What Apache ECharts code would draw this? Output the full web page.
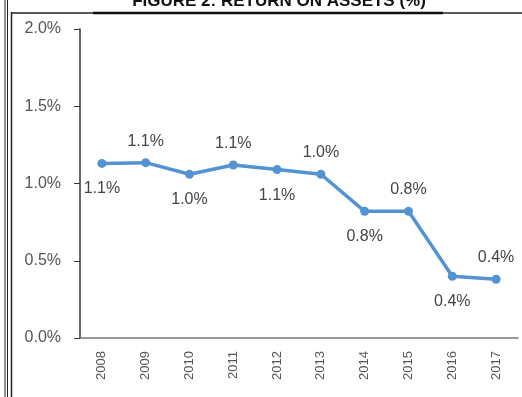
<!DOCTYPE html>
<html>
<head>
<meta charset="utf-8">
<script src="https://cdn.jsdelivr.net/npm/echarts@6/dist/echarts.min.js"></script>
<style>
  html, body { margin: 0; padding: 0; background: #fff; }
  #chart { width: 522px; height: 397px; }
</style>
</head>
<body>
<div id="chart"></div>
<script>
// Return on assets
var years = ['2008', '2009', '2010', '2011', '2012', '2013', '2014', '2015', '2016', '2017'];
var roaValues = [1.13, 1.135, 1.06, 1.12, 1.09, 1.06, 0.82, 0.82, 0.40, 0.38];
var roaLabels = ['1.1%', '1.1%', '1.0%', '1.1%', '1.1%', '1.0%', '0.8%', '0.8%', '0.4%', '0.4%'];
var yTicks = [0, 0.5, 1.0, 1.5, 2.0];
var titleText = 'FIGURE 2: RETURN ON ASSETS (%)';

var chart = echarts.init(document.getElementById('chart'));

var seriesData = roaValues.map(function (v, i) {
	var below = i % 2 === 0; // labels alternate below / above
	return {
		value: v,
		label: {
			position: below ? 'bottom' : 'top',
			distance: below ? 13 : 9,
			formatter: roaLabels[i]
		}
	};
});

var option = {
	animation: false,
	backgroundColor: '#fff',
	grid: { left: 80, right: 4, top: 29, bottom: 59 },
	xAxis: {
		type: 'category',
		data: years,
		boundaryGap: true,
		axisLine: { lineStyle: { color: '#777', width: 1.5 } },
		axisTick: { show: false },
		axisLabel: {
			rotate: 90,
			margin: 13,
			color: '#555',
			fontSize: 13,
			fontFamily: 'Liberation Sans'
		}
	},
	yAxis: {
		type: 'value',
		min: yTicks[0],
		max: yTicks[yTicks.length - 1],
		interval: 0.5,
		splitLine: { show: false },
		axisLine: { show: true, lineStyle: { color: '#333', width: 1.5 } },
		axisTick: { show: true, length: 6, lineStyle: { color: '#333' } },
		axisLabel: {
			margin: 19,
			color: '#555',
			fontSize: 16,
			fontFamily: 'Liberation Sans',
			formatter: function (v) { return v.toFixed(1) + '%'; }
		}
	},
	series: [{
		type: 'line',
		data: seriesData,
		symbol: 'circle',
		symbolSize: 9,
		lineStyle: { color: '#5393d3', width: 3.5 },
		itemStyle: { color: '#5393d3' },
		label: {
			show: true,
			color: '#444',
			fontSize: 16,
			fontFamily: 'Liberation Sans'
		}
	}],
	graphic: [
		{ type: 'line', shape: { x1: 5, y1: 0, x2: 5, y2: 397 }, style: { stroke: '#222', lineWidth: 1 } },
		{ type: 'line', shape: { x1: 7.5, y1: 0, x2: 7.5, y2: 397 }, style: { stroke: '#222', lineWidth: 1 } },
		{ type: 'line', shape: { x1: 11.5, y1: 12, x2: 11.5, y2: 397 }, style: { stroke: '#222', lineWidth: 1.5 } },
		{ type: 'line', shape: { x1: 11, y1: 13, x2: 522, y2: 13 }, style: { stroke: '#222', lineWidth: 1.5 } },
		{ type: 'line', shape: { x1: 93, y1: 13, x2: 443, y2: 13 }, style: { stroke: '#111', lineWidth: 2.5 } },
		{
			type: 'text',
			style: {
				text: titleText,
				x: 279,
				y: 10,
				textAlign: 'center',
				textVerticalAlign: 'bottom',
				fill: '#111',
				font: 'bold 17px "Liberation Sans"'
			}
		}
	]
};

chart.setOption(option);
</script>
</body>
</html>
